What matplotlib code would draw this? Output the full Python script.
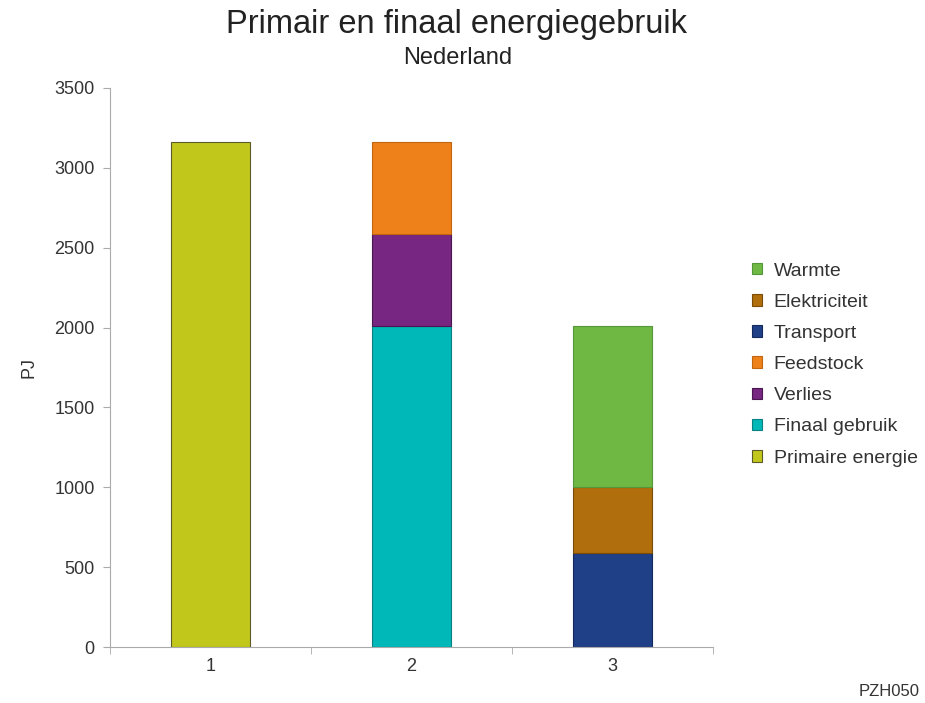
import matplotlib
matplotlib.use("Agg")
import matplotlib.pyplot as plt
import numpy as np

plt.rcParams['font.family'] = ['Liberation Sans', 'DejaVu Sans']

categories = ["1", "2", "3"]
series_names = ["Primaire energie", "Finaal gebruik", "Verlies", "Feedstock",
                "Transport", "Elektriciteit", "Warmte"]
primaire = [3160, 0, 0]
finaal = [0, 2012, 0]
verlies = [0, 575, 0]
feedstock = [0, 573, 0]
transport = [0, 0, 587]
elektriciteit = [0, 0, 413]
warmte = [0, 0, 1012]
series_values = [primaire, finaal, verlies, feedstock, transport, elektriciteit, warmte]
colors = ["#c2c81b", "#00b8b8", "#772681", "#ee8119", "#1f3f87", "#b06e0c", "#6fb843"]
edges = ["#5a5a2a", "#0a8080", "#4a1650", "#c06510", "#132a5c", "#7a4c08", "#55963a"]
y_ticks = [0, 500, 1000, 1500, 2000, 2500, 3000, 3500]

fig = plt.figure(figsize=(9.25, 7.03), dpi=100)
ax = fig.add_axes([110/925, 1-647/703, (713-110)/925, (647-88)/703])

x = np.arange(1, len(categories) + 1)
bottom = np.zeros(len(categories))
handles = []
for name, vals, c, ec in zip(series_names, series_values, colors, edges):
    vals = np.array(vals, dtype=float)
    mask = vals > 0
    b = ax.bar(x[mask], vals[mask], width=0.39, bottom=bottom[mask], color=c,
               edgecolor=ec, linewidth=0.8, label=name)
    handles.append(b)
    bottom += vals

ax.set_xlim(0.5, 3.5)
ax.set_ylim(0, 3500)
ax.set_yticks(y_ticks)
ax.set_yticklabels([str(t) for t in y_ticks], fontsize=13, color="#333333")
ax.set_xticks(x)
ax.set_xticklabels(categories, fontsize=13, color="#333333")
ax.tick_params(axis='x', length=0, pad=8)
ax.set_xticks([0.5, 1.5, 2.5, 3.5], minor=True)
ax.tick_params(axis='x', which='minor', length=5, color="#aaaaaa")
ax.tick_params(axis='y', length=5, color="#aaaaaa", pad=6)
for s in ["top", "right"]:
    ax.spines[s].set_visible(False)
for s in ["left", "bottom"]:
    ax.spines[s].set_color("#aaaaaa")
ax.set_ylabel("PJ", fontsize=13, color="#333333", labelpad=12)

fig.text(456/925, 1-25/703, "Primair en finaal energiegebruik", fontsize=23.5,
         ha="center", va="center", color="#222222")
fig.text(458/925, 1-58/703, "Nederland", fontsize=17, ha="center", va="center",
         color="#222222")
fig.text(920/925, 1-692/703, "PZH050", fontsize=12, ha="right", va="center",
         color="#333333")

leg = fig.legend(handles[::-1], series_names[::-1], loc="upper left",
                 bbox_to_anchor=(734/925, 1-245/703), frameon=False,
                 fontsize=14, handlelength=0.55, handleheight=0.55,
                 labelspacing=0.73, handletextpad=0.6)
for t in leg.get_texts():
    t.set_color("#333333")

fig.savefig("out.png", dpi=100)
